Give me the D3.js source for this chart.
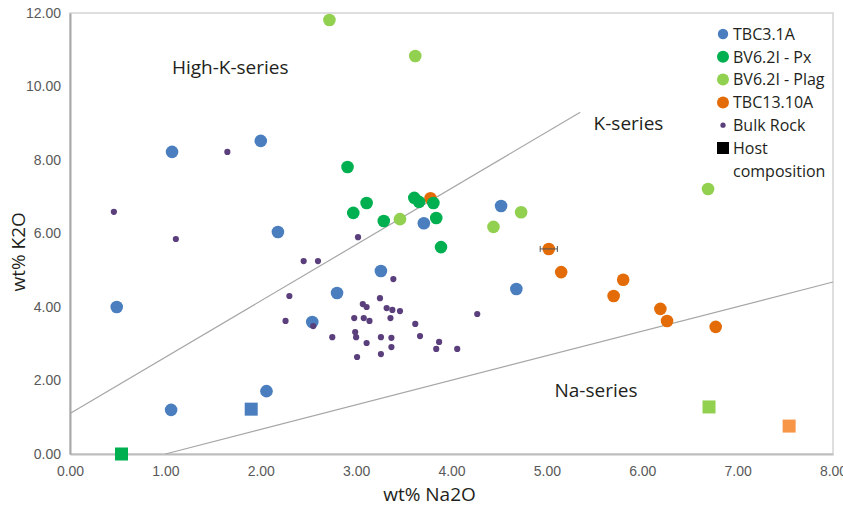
<!DOCTYPE html>
<html>
<head>
<meta charset="utf-8">
<script src="https://cdn.jsdelivr.net/npm/d3@7"></script>
<style>
  body { margin: 0; background: #fff; }
  .tick text { font-family: "Liberation Sans", Arial, sans-serif; font-size: 14px; fill: #595959; }
  .label { font-family: "Open Sans", sans-serif; fill: #231f20; }
</style>
</head>
<body>
<div class="chart-container"></div>
<script>
// Data (wt% Na2O, wt% K2O)
const tbc31a = [
  [0.49, 4.0], [1.07, 8.22], [2.0, 8.52], [2.18, 6.04], [1.06, 1.2],
  [2.06, 1.71], [3.26, 4.98], [2.8, 4.38], [2.54, 3.59], [3.71, 6.28],
  [4.52, 6.75], [4.68, 4.49]
];
const bv62iPx = [
  [2.91, 7.81], [3.11, 6.83], [2.97, 6.56], [3.29, 6.34], [3.61, 6.97],
  [3.66, 6.86], [3.81, 6.83], [3.84, 6.42], [3.89, 5.63]
];
const bv62iPlag = [
  [2.72, 11.81], [3.62, 10.83], [3.46, 6.39], [4.44, 6.18], [4.73, 6.58],
  [6.69, 7.21]
];
const tbc1310a = [
  [3.78, 6.96], [5.02, 5.58], [5.15, 4.95], [5.8, 4.74], [5.7, 4.3],
  [6.19, 3.95], [6.26, 3.62], [6.77, 3.46]
];
const bulkRock = [
  [0.46, 6.59], [1.11, 5.85], [1.65, 8.22], [3.02, 5.9], [2.45, 5.25],
  [2.6, 5.25], [3.39, 4.76], [2.3, 4.3], [3.25, 4.24], [3.07, 4.08],
  [3.11, 4.0], [3.32, 3.97], [3.38, 3.92], [3.46, 3.89], [2.26, 3.62],
  [2.55, 3.48], [2.98, 3.7], [3.08, 3.7], [3.14, 3.62], [3.36, 3.7],
  [3.62, 3.54], [2.99, 3.32], [3.0, 3.18], [2.75, 3.18], [3.26, 3.18],
  [3.37, 3.16], [3.67, 3.21], [3.11, 3.02], [3.37, 2.91], [3.26, 2.72],
  [3.01, 2.64], [3.87, 3.05], [3.84, 2.86], [4.06, 2.86], [4.27, 3.81]
];
// Host compositions (squares)
const hostSeries = ["TBC3.1A", "BV6.2I - Px", "BV6.2I - Plag", "TBC13.10A"];
const hostNa2O = [1.9, 0.54, 6.7, 7.54];
const hostK2O = [1.22, 0.0, 1.28, 0.76];
// Horizontal error bar on one TBC13.10A point
const errorBars = [{ x: 5.02, y: 5.58, dx: 0.09 }];
// Series boundary lines
const highKLine = [[0, 1.1], [5.35, 9.3]];
const naLine = [[1.0, 0], [8.0, 4.68]];
// Region labels
const regionLabels = [
  { text: "High-K-series", x: 1.68, y: 10.34, anchor: "middle" },
  { text: "K-series", x: 5.49, y: 8.82, anchor: "start" },
  { text: "Na-series", x: 5.08, y: 1.55, anchor: "start" }
];
// Ticks
const xTicks = [0, 1, 2, 3, 4, 5, 6, 7, 8];
const yTicks = [0, 2, 4, 6, 8, 10, 12];

(function() {
  ////////////////////////////////////////////////////////////
  //// Setup /////////////////////////////////////////////////
  ////////////////////////////////////////////////////////////
  const chartWidth = 843;
  const chartHeight = 506;
  const margin = { top: 13, right: 10, bottom: 52, left: 70 };
  const width = chartWidth - margin.left - margin.right;
  const height = chartHeight - margin.top - margin.bottom;

  const colors = {
    "TBC3.1A": "#4a7ebf",
    "BV6.2I - Px": "#00b050",
    "BV6.2I - Plag": "#92d050",
    "TBC13.10A": "#e36c09",
    "Bulk Rock": "#5a3f7c"
  };
  const hostColors = {
    "TBC3.1A": "#4a7ebf",
    "BV6.2I - Px": "#00b050",
    "BV6.2I - Plag": "#92d050",
    "TBC13.10A": "#f79646"
  };

  const xScale = d3.scaleLinear().domain([0, 8]).range([0, width]);
  const yScale = d3.scaleLinear().domain([0, 12]).range([height, 0]);

  const svg = d3
    .select(".chart-container")
    .append("svg")
    .attr("width", chartWidth)
    .attr("height", chartHeight);

  const g = svg
    .append("g")
    .attr("transform", `translate(${margin.left},${margin.top})`);

  ////////////////////////////////////////////////////////////
  //// Frame & axes //////////////////////////////////////////
  ////////////////////////////////////////////////////////////
  g.append("rect")
    .attr("width", width)
    .attr("height", height)
    .attr("fill", "none")
    .attr("stroke", "#d4d4d4")
    .attr("stroke-width", 1.5);

  g.append("g")
    .attr("class", "x axis")
    .attr("transform", `translate(0,${height})`)
    .call(
      d3
        .axisBottom(xScale)
        .tickValues(xTicks)
        .tickSize(0)
        .tickPadding(12)
        .tickFormat(d3.format(".2f"))
    )
    .call(g => g.select(".domain").attr("stroke", "#bdbdbd").attr("stroke-width", 2));

  g.append("g")
    .attr("class", "y axis")
    .call(
      d3
        .axisLeft(yScale)
        .tickValues(yTicks)
        .tickSize(0)
        .tickPadding(9)
        .tickFormat(d3.format(".2f"))
    )
    .call(g => g.select(".domain").attr("stroke", "#a8a8a8").attr("stroke-width", 2));

  svg
    .append("text")
    .attr("class", "label")
    .attr("x", margin.left + xScale(4) - 22)
    .attr("y", 501)
    .attr("text-anchor", "middle")
    .style("font-size", "19px")
    .text("wt% Na2O");

  svg
    .append("text")
    .attr("class", "label")
    .attr("transform", `translate(25,${margin.top + yScale(5.5)}) rotate(-90)`)
    .attr("text-anchor", "middle")
    .style("font-size", "19px")
    .text("wt% K2O");

  ////////////////////////////////////////////////////////////
  //// Boundary lines ////////////////////////////////////////
  ////////////////////////////////////////////////////////////
  const line = d3
    .line()
    .x(d => xScale(d[0]))
    .y(d => yScale(d[1]));

  g.selectAll(".boundary")
    .data([highKLine, naLine])
    .join("path")
    .attr("class", "boundary")
    .attr("d", line)
    .attr("fill", "none")
    .attr("stroke", "#a6a6a6")
    .attr("stroke-width", 1.2);

  g.selectAll(".region-label")
    .data(regionLabels)
    .join("text")
    .attr("class", "label region-label")
    .attr("x", d => xScale(d.x))
    .attr("y", d => yScale(d.y))
    .attr("text-anchor", d => d.anchor)
    .style("font-size", "19px")
    .text(d => d.text);

  ////////////////////////////////////////////////////////////
  //// Points ////////////////////////////////////////////////
  ////////////////////////////////////////////////////////////
  const series = [
    { name: "TBC13.10A", values: tbc1310a, r: 6.3 },
    { name: "TBC3.1A", values: tbc31a, r: 6.3 },
    { name: "BV6.2I - Px", values: bv62iPx, r: 6.3 },
    { name: "BV6.2I - Plag", values: bv62iPlag, r: 6.3 },
    { name: "Bulk Rock", values: bulkRock, r: 3.1 }
  ];

  const gPoints = g.append("g").attr("class", "points-layer");
  series.forEach(s => {
    gPoints
      .append("g")
      .selectAll("circle")
      .data(s.values)
      .join("circle")
      .attr("cx", d => xScale(d[0]))
      .attr("cy", d => yScale(d[1]))
      .attr("r", s.r)
      .attr("fill", colors[s.name]);
  });

  // error bars
  const gErr = g.append("g").attr("stroke", "#555").attr("stroke-width", 1);
  errorBars.forEach(e => {
    gErr.append("line")
      .attr("x1", xScale(e.x - e.dx)).attr("x2", xScale(e.x + e.dx))
      .attr("y1", yScale(e.y)).attr("y2", yScale(e.y));
    [e.x - e.dx, e.x + e.dx].forEach(v => {
      gErr.append("line")
        .attr("x1", xScale(v)).attr("x2", xScale(v))
        .attr("y1", yScale(e.y) - 3).attr("y2", yScale(e.y) + 3);
    });
  });

  const squareSize = 13;
  g.append("g")
    .selectAll("rect")
    .data(d3.range(hostSeries.length))
    .join("rect")
    .attr("x", i => xScale(hostNa2O[i]) - squareSize / 2)
    .attr("y", i => yScale(hostK2O[i]) - squareSize / 2)
    .attr("width", squareSize)
    .attr("height", squareSize)
    .attr("fill", i => hostColors[hostSeries[i]]);

  ////////////////////////////////////////////////////////////
  //// Legend ////////////////////////////////////////////////
  ////////////////////////////////////////////////////////////
  const legendItems = [
    { label: "TBC3.1A", color: colors["TBC3.1A"], r: 5.2 },
    { label: "BV6.2I - Px", color: colors["BV6.2I - Px"], r: 6 },
    { label: "BV6.2I - Plag", color: colors["BV6.2I - Plag"], r: 6 },
    { label: "TBC13.10A", color: colors["TBC13.10A"], r: 6 },
    { label: "Bulk Rock", color: colors["Bulk Rock"], r: 2.6 },
    { label: "Host", color: "#000", square: true }
  ];
  const legend = svg.append("g").attr("transform", "translate(723,34)");
  const rowH = 22.8;
  const item = legend
    .selectAll("g")
    .data(legendItems)
    .join("g")
    .attr("transform", (d, i) => `translate(0,${i * rowH})`);
  item
    .filter(d => !d.square)
    .append("circle")
    .attr("r", d => d.r)
    .attr("fill", d => d.color);
  item
    .filter(d => d.square)
    .append("rect")
    .attr("x", -6)
    .attr("y", -6)
    .attr("width", 12)
    .attr("height", 12)
    .attr("fill", d => d.color);
  item
    .append("text")
    .attr("class", "label")
    .attr("x", 10)
    .attr("dy", "0.36em")
    .style("font-size", "16px")
    .text(d => d.label);
  legend
    .append("text")
    .attr("class", "label")
    .attr("x", 10)
    .attr("y", legendItems.length * rowH)
    .attr("dy", "0.36em")
    .style("font-size", "16px")
    .text("composition");
})();
</script>
</body>
</html>
